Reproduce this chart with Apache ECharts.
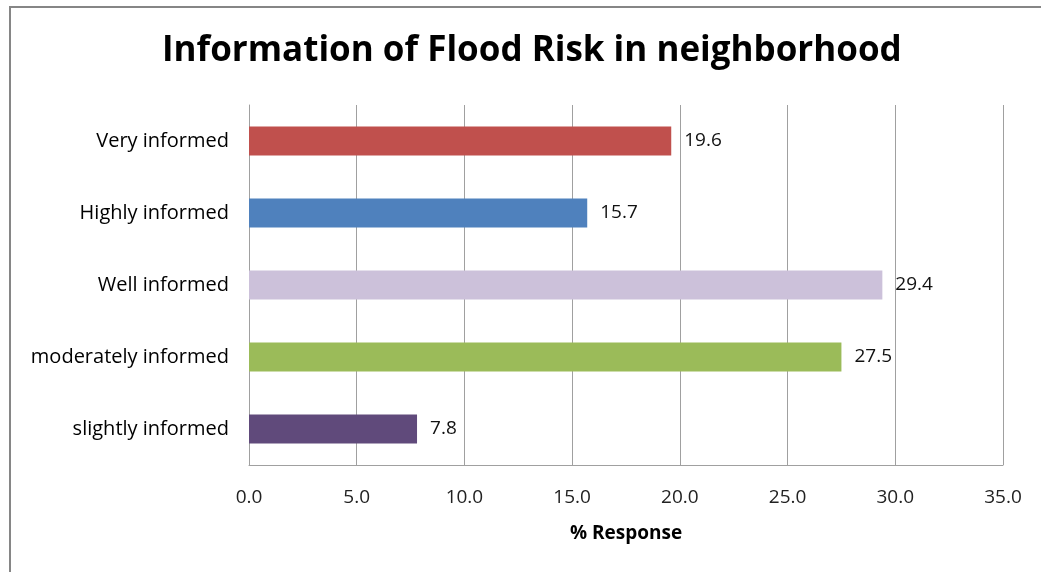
<!DOCTYPE html>
<html>
<head>
<meta charset="utf-8">
<style>
  html, body { margin: 0; padding: 0; background: #fff; }
  #chart { width: 1041px; height: 572px; }
</style>
<script src="https://cdn.jsdelivr.net/npm/echarts@6/dist/echarts.min.js"></script>
</head>
<body>
<div id="chart"></div>
<script>
// Response categories, listed top to bottom
const categories = ['Very informed', 'Highly informed', 'Well informed', 'moderately informed', 'slightly informed'];
// Percentage of respondents per category
const values = [19.6, 15.7, 29.4, 27.5, 7.8];
// One fill colour per category
const barColors = ['#C0504D', '#4F81BD', '#CCC1DA', '#9BBB59', '#604A7B'];
const titleText = 'Information of Flood Risk in neighborhood';
const axisName = '% Response';

const font = '"Open Sans", Lato, sans-serif';

const chart = echarts.init(document.getElementById('chart'), null, { renderer: 'canvas' });

chart.setOption({
  backgroundColor: '#fff',
  animation: false,
  title: {
    text: titleText,
    left: 157,
    top: 29,
    textStyle: { fontFamily: font, fontWeight: 'bold', fontSize: 35, color: '#000' }
  },
  graphic: [{
    type: 'polyline',
    shape: { points: [[10, 572], [10, 7], [1041, 7]] },
    style: { stroke: '#868686', lineWidth: 2, fill: null },
    silent: true
  }],
  grid: { left: 249, right: 38, top: 105, bottom: 107, containLabel: false },
  xAxis: {
    type: 'value',
    min: 0,
    max: 35,
    interval: 5,
    name: axisName,
    nameLocation: 'middle',
    nameGap: 59,
    nameTextStyle: { fontFamily: font, fontWeight: 'bold', fontSize: 19, color: '#000' },
    axisLine: { show: true, lineStyle: { color: '#a0a0a0', width: 1 } },
    axisTick: { show: false },
    axisLabel: {
      fontFamily: font, fontSize: 19, color: '#222', margin: 23,
      formatter: v => v.toFixed(1)
    },
    splitLine: { show: true, lineStyle: { color: '#a0a0a0', width: 1 } }
  },
  yAxis: {
    type: 'category',
    data: categories,
    inverse: true,
    axisLine: { show: true, lineStyle: { color: '#a0a0a0', width: 1 } },
    axisTick: { show: false },
    axisLabel: { fontFamily: font, fontSize: 20, color: '#000', margin: 20 }
  },
  series: [{
    type: 'bar',
    data: values.map((v, i) => ({ value: v, itemStyle: { color: barColors[i] } })),
    barWidth: '40%',
    label: {
      show: true,
      position: 'right',
      distance: 13,
      fontFamily: font,
      fontSize: 19,
      color: '#111',
      formatter: p => p.value.toFixed(1)
    }
  }]
});
</script>
</body>
</html>
